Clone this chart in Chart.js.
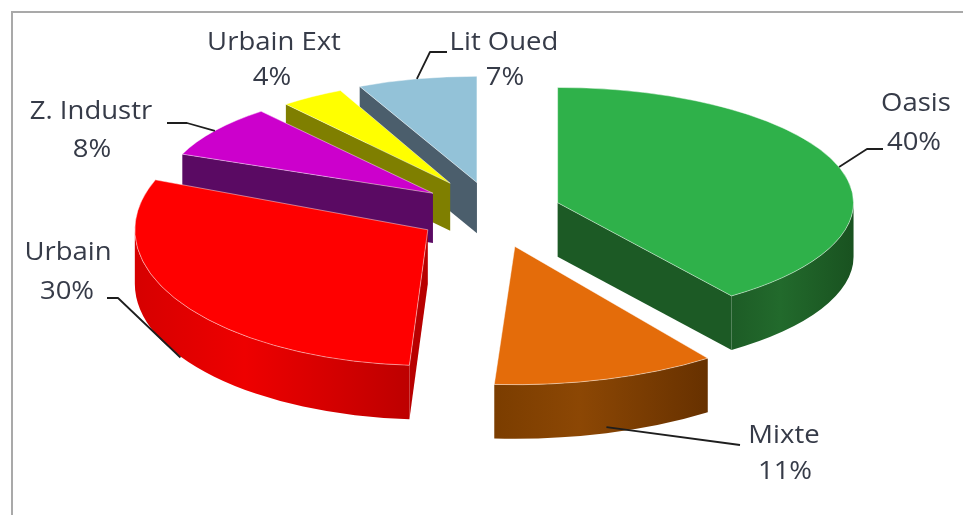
<!DOCTYPE html>
<html>
<head>
<meta charset="utf-8">
<title>Occupation du sol</title>
<script src="https://cdn.jsdelivr.net/npm/chart.js@4.4.1/dist/chart.umd.min.js"></script>
<style>
    html, body { margin: 0; padding: 0; background: #fff; }
    #wrap { position: relative; width: 963px; height: 515px; overflow: hidden; }
    #frame {
        position: absolute; left: 11px; top: 11px; right: -10px; bottom: -10px;
        border-left: 2px solid #a9a9a9; border-top: 2px solid #a9a9a9;
    }
</style>
</head>
<body>
<div id="wrap">
    <div id="frame"></div>
    <canvas id="landUseChart"></canvas>
</div>
<script>
// Land use shares (%)
const categories = ['Oasis', 'Mixte', 'Urbain', 'Z. Industr', 'Urbain Ext', 'Lit Oued'];
const shares = [40, 11, 30, 8, 4, 7];

// Slice colours: top face, cut faces and the curved outer wall (left, middle, right)
const topColors = ['#2fb14a', '#e46c0a', '#ff0000', '#cc00cc', '#ffff00', '#93c2d8'];
const cutColors = ['#1c5a25', '#6e3500', '#b80000', '#5a0a63', '#7f7f00', '#4b5e6c'];
const wallColors = [
    ['#1d5c26', '#226a2c', '#195220'],
    ['#7b3d00', '#8c4704', '#673100'],
    ['#d60000', '#ee0000', '#bd0000'],
    ['#5a0a63', '#660a70', '#4e0858'],
    ['#7f7f00', '#8f8f00', '#6f6f00'],
    ['#4b5e6c', '#566b7a', '#43545f']
];

// How far each slice is pulled out of the pie (px, before tilt)
const explode = [69, 82, 76, 73, 78, 69];
// Per-slice [x, y] size factors: near slices look bigger than far ones
const depthScale = [[1.01, 0.9], [1.12, 1.08], [1.0, 1.06], [0.92, 0.83], [0.88, 0.8], [0.94, 0.83]];

// Callouts: first / second text line centres and leader polyline
const callouts = [
    { l1: [916, 104], l2: [914, 143], drop: 0,  path: [[867, 149], [883, 149]] },
    { l1: [784, 436], l2: [785, 472], drop: 48, path: [[740, 445]] },
    { l1: [68, 253],  l2: [67, 292],  drop: 55, path: [[118, 298], [107, 298]] },
    { l1: [91, 112],  l2: [92, 150],  drop: 0,  path: [[187, 123], [167, 123]] },
    { l1: [274, 43],  l2: [272, 78],  drop: 0,  path: null },
    { l1: [504, 43],  l2: [505, 78],  drop: 0,  path: [[430, 52], [447, 52]] }
];

const TILT = 0.437;
const DEPTH = 54;

function sliceGeom(arc, i) {
    const mid = (arc.startAngle + arc.endAngle) / 2;
    const [sx, sy] = depthScale[i];
    return {
        mid,
        ox: arc.x + Math.cos(mid) * explode[i],
        oy: arc.y + Math.sin(mid) * explode[i] * TILT,
        rx: arc.outerRadius * sx,
        ry: arc.outerRadius * TILT * sy,
        sx, sy,
        h: DEPTH * Math.min(sx, 1)
    };
}

function drawSlice(ctx, arc, i) {
    const {ox, oy, rx, ry, sx, sy, h} = sliceGeom(arc, i);
    const a0 = arc.startAngle, a1 = arc.endAngle;
    const px = a => ox + Math.cos(a) * rx;
    const py = a => oy + Math.sin(a) * ry;

    // flat cut faces, only the ones turned toward the viewer
    const wall = a => {
        ctx.beginPath();
        ctx.moveTo(ox, oy);
        ctx.lineTo(px(a), py(a));
        ctx.lineTo(px(a), py(a) + h);
        ctx.lineTo(ox, oy + h);
        ctx.closePath();
        ctx.fillStyle = cutColors[i];
        ctx.fill();
    };
    if (Math.cos(a0) < 0) wall(a0);
    if (Math.cos(a1) > 0) wall(a1);

    // curved outer wall on the front half of the ellipse
    const lo = Math.max(a0, 0), hi = Math.min(a1, Math.PI);
    if (hi > lo) {
        const xs = [px(lo), px(hi)];
        for (let a = lo; a <= hi; a += 0.02) xs.push(px(a));
        const g = ctx.createLinearGradient(Math.min(...xs), 0, Math.max(...xs), 0);
        g.addColorStop(0, wallColors[i][0]);
        g.addColorStop(0.4, wallColors[i][1]);
        g.addColorStop(1, wallColors[i][2]);
        ctx.beginPath();
        ctx.ellipse(ox, oy, rx, ry, 0, lo, hi);
        ctx.ellipse(ox, oy + h, rx, ry, 0, hi, lo, true);
        ctx.closePath();
        ctx.fillStyle = g;
        ctx.fill();
    }

    // top face: the library's own arc, squashed into the tilted plane
    ctx.save();
    ctx.translate(ox, oy);
    ctx.scale(sx, TILT * sy);
    ctx.translate(-arc.x, -arc.y);
    arc.draw(ctx);
    ctx.beginPath();
    ctx.moveTo(arc.x, arc.y);
    ctx.arc(arc.x, arc.y, arc.outerRadius, a0, a1);
    ctx.closePath();
    ctx.restore();
    ctx.strokeStyle = 'rgba(255,255,255,0.45)';
    ctx.lineWidth = 1;
    ctx.stroke();
}

const pie3d = {
    id: 'pie3d',
    beforeDatasetsDraw(chart) {
        const ctx = chart.ctx;
        const arcs = chart.getDatasetMeta(0).data.map((arc, i) => ({arc, i}));
        // back slices first
        arcs.sort((a, b) => sliceGeom(a.arc, a.i).oy - sliceGeom(b.arc, b.i).oy);
        ctx.save();
        arcs.forEach(({arc, i}) => drawSlice(ctx, arc, i));
        ctx.restore();
        return false;
    },
    afterDraw(chart) {
        const ctx = chart.ctx;
        const arcs = chart.getDatasetMeta(0).data;
        ctx.save();
        ctx.strokeStyle = '#1e1e1e';
        ctx.lineWidth = 1.8;
        ctx.lineJoin = 'round';
        arcs.forEach((arc, i) => {
            const c = callouts[i];
            if (!c.path) return;
            const {mid, ox, oy, rx, ry} = sliceGeom(arc, i);
            ctx.beginPath();
            ctx.moveTo(ox + Math.cos(mid) * rx, oy + Math.sin(mid) * ry + c.drop);
            c.path.forEach(p => ctx.lineTo(p[0], p[1]));
            ctx.stroke();
        });

        ctx.fillStyle = '#363b48';
        ctx.font = '25px "Open Sans"';
        ctx.textAlign = 'center';
        ctx.textBaseline = 'middle';
        const put = (txt, p) => {
            ctx.save();
            ctx.translate(p[0], p[1]);
            ctx.scale(1.1, 1);
            ctx.fillText(txt, 0, 0);
            ctx.restore();
        };
        categories.forEach((cat, i) => {
            put(cat, callouts[i].l1);
            put(shares[i] + '%', callouts[i].l2);
        });
        ctx.restore();
    }
};

const landUseCtx = document.getElementById('landUseChart').getContext('2d');
const landUseChart = new Chart(landUseCtx, {
    type: 'pie',
    data: {
        labels: categories,
        datasets: [{
            data: shares,
            backgroundColor: topColors,
            borderWidth: 0
        }]
    },
    options: {
        responsive: true,
        maintainAspectRatio: false,
        animation: false,
        radius: 293,
        layout: {
            padding: { left: 21, right: 0, top: 0, bottom: 91 }
        },
        plugins: {
            legend: { display: false },
            tooltip: { enabled: false }
        }
    },
    plugins: [pie3d]
});
</script>
</body>
</html>
